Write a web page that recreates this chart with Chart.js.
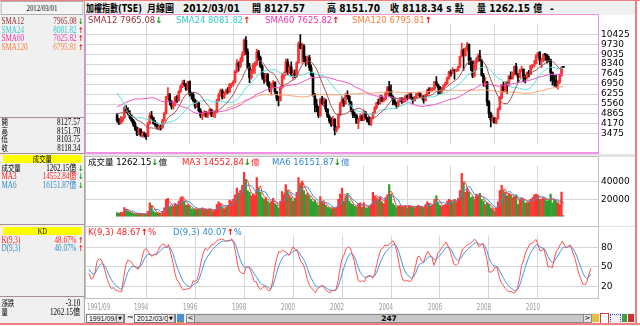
<!DOCTYPE html>
<html>
<head>
<meta charset="utf-8">
<script src="https://cdn.jsdelivr.net/npm/chart.js@4.4.1/dist/chart.umd.min.js"></script>
<style>
html, body { margin: 0; padding: 0; }
body { width: 640px; height: 326px; position: relative; overflow: hidden; background: #fff; font-family: "DejaVu Sans", "Noto Sans CJK TC", sans-serif; }
.abs { position: absolute; }
#left { position: absolute; left: 0; top: 0; width: 84px; height: 323px; background: #f0f0f0; border-right: 1px solid #a8a8a8; overflow: hidden; }
#leftIn { position: absolute; left: 0; top: 0; width: 112px; height: 323px; transform: scaleX(0.75); transform-origin: 0 0; font-family: "Liberation Serif", "Noto Sans CJK TC", serif; font-size: 9.5px; }
.row { position: absolute; left: 0; width: 112px; height: 9px; line-height: 9px; white-space: nowrap; }
.row .l { position: absolute; left: 2px; }
.row .v { position: absolute; right: 10px; }
.row .v2 { position: absolute; right: 5px; }
.row .a { position: absolute; right: 1px; font-family: "DejaVu Sans"; font-weight: bold; font-size: 8px; }
.row .c { font-size: 8.5px; }
.sep { position: absolute; left: 0; width: 112px; height: 1px; background: #a89090; }
.ybox { position: absolute; left: 4px; width: 105px; height: 8px; line-height: 8px; background: #ffff00; text-align: center; font-size: 8.5px; }
#header { position: absolute; left: 85px; top: 1px; width: 551px; height: 14px; background: #f0f0f0; }
.hd { position: absolute; top: 2px; font-weight: bold; font-size: 10px; line-height: 11px; white-space: nowrap; color: #000; transform: scaleX(0.9); transform-origin: 0 0; }
.panel { position: absolute; background: #fff; }
.lg { position: absolute; font-size: 8.5px; line-height: 10px; white-space: nowrap; z-index: 5; }
.up { color: #ff0000; font-weight: bold; }
.dn { color: #009900; font-weight: bold; }
canvas { position: absolute; z-index: 2; }
#bottom { position: absolute; left: 85px; top: 313px; width: 550px; height: 10px; background: #f0f0f0; font-size: 7px; }
.box { position: absolute; top: 1px; height: 7px; border: 1px solid #7a7a7a; background: #fff; line-height: 7px; font-family: "Liberation Sans"; font-size: 7px; overflow: hidden; white-space: nowrap; }
.btn { position: absolute; top: 1px; height: 7px; border: 1px solid #8a8a8a; background: #e4e4e4; line-height: 7px; text-align: center; font-size: 7px; }
</style>
</head>
<body>

<div id="header">
  <span class="hd" style="left:1px;transform:scaleX(0.8)">加權指數(TSE)</span>
  <span class="hd" style="left:62px">月線圖</span>
  <span class="hd" style="left:98px">2012/03/01</span>
  <span class="hd" style="left:167px">開 8127.57</span>
  <span class="hd" style="left:242px">高 8151.70</span>
  <span class="hd" style="left:305px">收 8118.34 s 點</span>
  <span class="hd" style="left:392px">量 1262.15 億</span>
  <span class="hd" style="left:465px">-</span>
</div>

<!-- panel backgrounds and borders -->
<div class="panel" style="left:85px;top:14px;width:512px;height:137px;border:1px solid #f090e8;border-bottom:2px solid #f090e8;"></div>
<div class="abs" style="left:85px;top:154px;width:551px;height:3px;background:#e4e4e4;"></div>
<div class="panel" style="left:85px;top:156px;width:512px;height:69px;border:1px solid #c8c0b8;"></div>
<div class="abs" style="left:85px;top:226px;width:551px;height:1px;background:#e4e4e4;"></div>
<div class="panel" style="left:85px;top:226px;width:512px;height:71px;border:1px solid #c8c0b8;"></div>

<canvas id="mainChart" width="550" height="137" style="left:86px;top:15px;"></canvas>
<canvas id="volChart" width="550" height="68" style="left:86px;top:157px;"></canvas>
<canvas id="kdChart" width="550" height="86" style="left:86px;top:227px;"></canvas>

<div class="lg" style="left:88px;top:15px;color:#9b3030">SMA12 7965.08<span class="dn">↓</span></div>
<div class="lg" style="left:176px;top:15px;color:#33cccc">SMA24 8081.82<span class="up">↑</span></div>
<div class="lg" style="left:265px;top:15px;color:#ee33aa">SMA60 7625.82<span class="up">↑</span></div>
<div class="lg" style="left:352px;top:15px;color:#ff8040">SMA120 6795.81<span class="up">↑</span></div>

<div class="lg" style="left:88px;top:157px;color:#000">成交量 1262.15<span class="dn">↓</span>億</div>
<div class="lg" style="left:182px;top:157px;color:#ff2020">MA3 14552.84<span class="dn">↓</span>億</div>
<div class="lg" style="left:272px;top:157px;color:#3388cc">MA6 16151.87<span class="dn">↓</span>億</div>

<div class="lg" style="left:88px;top:227px;color:#ff2020">K(9,3) 48.67<span class="up">↑</span>%</div>
<div class="lg" style="left:173px;top:227px;color:#3388cc">D(9,3) 40.07<span class="up">↑</span>%</div>

<div id="left">
  <div id="leftIn">
    <div class="abs" style="left:1px;top:1px;width:108px;height:12px;border:1px solid #b0b0b0;background:#f4f4f4;text-align:center;line-height:12px;font-size:9px;">2012/03/01</div>
    <div class="row" style="top:17px;color:#9b3030"><span class="l">SMA12</span><span class="v">7965.08</span><span class="a dn">↓</span></div>
    <div class="row" style="top:25.5px;color:#33cccc"><span class="l">SMA24</span><span class="v">8081.82</span><span class="a up">↑</span></div>
    <div class="row" style="top:34px;color:#ee33aa"><span class="l">SMA60</span><span class="v">7625.82</span><span class="a up">↑</span></div>
    <div class="row" style="top:42.5px;color:#ff8040"><span class="l">SMA120</span><span class="v">6795.81</span><span class="a up">↑</span></div>
    <div class="sep" style="top:117px"></div>
    <div class="row" style="top:118px"><span class="l c">開</span><span class="v2">8127.57</span></div>
    <div class="row" style="top:126.5px"><span class="l c">高</span><span class="v2">8151.70</span></div>
    <div class="row" style="top:135px"><span class="l c">低</span><span class="v2">8103.75</span></div>
    <div class="row" style="top:143.5px"><span class="l c">收</span><span class="v2">8118.34</span></div>
    <div class="sep" style="top:153px"></div>
    <div class="ybox" style="top:155px">成交量</div>
    <div class="row" style="top:164px"><span class="l c">成交量</span><span class="v">1262.15億</span><span class="a dn">↓</span></div>
    <div class="row" style="top:172px;color:#ff2020"><span class="l">MA3</span><span class="v">14552.84億</span><span class="a dn">↓</span></div>
    <div class="row" style="top:180.5px;color:#3388cc"><span class="l">MA6</span><span class="v">16151.87億</span><span class="a dn">↓</span></div>
    <div class="sep" style="top:224px"></div>
    <div class="ybox" style="top:227px">KD</div>
    <div class="row" style="top:235.5px;color:#ff2020"><span class="l">K(9,3)</span><span class="v">48.67%</span><span class="a up">↑</span></div>
    <div class="row" style="top:244px;color:#3388cc"><span class="l">D(9,3)</span><span class="v">40.07%</span><span class="a up">↑</span></div>
    <div class="sep" style="top:296px"></div>
    <div class="row" style="top:299px"><span class="l c">漲跌</span><span class="v2">-3.10</span></div>
    <div class="row" style="top:307.5px"><span class="l c">量</span><span class="v2">1262.15億</span></div>
  </div>
</div>

<div id="bottom">
  <div class="box" style="left:1px;width:37px;">&nbsp;1991/09/02</div>
  <div class="btn" style="left:31px;width:6px;font-size:5px;">▼</div>
  <div class="abs" style="left:42px;top:0px;font-size:8px;line-height:10px;">~</div>
  <div class="box" style="left:49px;width:40px;">&nbsp;2012/03/01</div>
  <div class="btn" style="left:82px;width:6px;font-size:5px;">▼</div>
  <div class="abs" style="left:92px;top:1px;width:7px;height:8px;background:#4a90d0;border-bottom:2px solid #e0a030;"></div>
  <div class="btn" style="left:101px;width:7px;">&lt;</div>
  <div class="btn" style="left:109px;width:388px;background:#c8c8c8;font-weight:bold;font-size:7.5px;">247</div>
  <div class="btn" style="left:498px;width:7px;">&gt;</div>
  <div class="abs" style="left:507px;top:1px;width:7px;height:8px;background:#e8c040;"></div>
  <div class="abs" style="left:515px;top:0px;width:7px;height:9px;border:1px solid #d04040;background:#fff;"></div>
  <div class="abs" style="left:525px;top:1px;width:9px;height:8px;border:1px dotted #3050e0;"></div>
  <div class="abs" style="left:537px;top:1px;width:5px;height:8px;background:#40a040;"></div>
  <div class="abs" style="left:543px;top:1px;width:6px;height:8px;background:#d03030;"></div>
</div>

<!-- outer frame -->
<div class="abs" style="left:0;top:0;width:640px;height:1px;background:#f08080;"></div>
<div class="abs" style="left:635px;top:0;width:2px;height:325px;background:#f08080;"></div>
<div class="abs" style="left:0;top:323px;width:640px;height:2px;background:#f08080;"></div>

<script>
// monthly candles, 1991/09 .. 2012/03
const opens = [
  4800, 4420, 4230, 4400,
  4600, 5300, 5050, 4900, 4600, 4400, 4100, 3800, 3450, 3800, 3400, 3550,
  3380, 3300, 4200, 4750, 4600, 4200, 4100, 3900, 3950, 3900, 4400, 4900,
  6070, 6200, 5700, 5400, 5600, 6000, 5800, 6450, 6800, 7000, 6900, 6600,
  7124, 6250, 6200, 5800, 5400, 5650, 5100, 4750, 4900, 4950, 4800, 4900,
  5173, 4800, 4900, 5000, 5800, 6200, 6500, 6000, 6300, 6500, 6400, 6900,
  6933, 7100, 7800, 8400, 8200, 8600, 9000, 10000, 9200, 8100, 7400, 7900,
  8187, 8300, 9200, 8800, 8200, 7500, 7200, 7600, 6900, 6600, 6900, 7050,
  6418, 5950, 5800, 6700, 7500, 7600, 8500, 7800, 8150, 7600, 7700, 7500,
  8448, 9750, 9450, 9600, 8700, 8500, 8800, 8100, 7600, 6200, 5500, 5300,
  4739, 5900, 5600, 5800, 5200, 4700, 4400, 4100, 4500, 3700, 3900, 4800,
  5551, 5900, 5600, 6200, 6100, 5700, 5100, 4800, 4750, 4250, 4500, 4700,
  4452, 5000, 4600, 4350, 4150, 4550, 4900, 5300, 5650, 5600, 6050, 5800,
  5890, 6300, 6700, 6500, 6100, 5800, 5600, 5450, 5750, 5850, 5700, 5850,
  6139, 5990, 6250, 6000, 5800, 6000, 6250, 6300, 6050, 6100, 5800, 6200,
  6548, 6500, 6600, 6620, 7100, 6900, 6700, 6450, 6600, 6880, 7000, 7350,
  7823, 7700, 7900, 7880, 7900, 8150, 8880, 9300, 8950, 9450, 9700, 8600,
  8506, 7520, 8400, 8570, 8900, 8600, 7550, 7050, 7100, 5700, 4900, 4450,
  4591, 4250, 4550, 5200, 6000, 6900, 6430, 7000, 6850, 7500, 7350, 7600,
  8188, 7650, 7430, 7920, 8000, 7375, 7330, 7760, 7620, 8240, 8290, 8370,
  8972, 9145, 8600, 8680, 9000, 8990, 8650, 8640, 7750, 7220, 7140, 6900,
  7072, 7520, 8127.57
];
const highs = [
  4900, 4560, 4700, 4650,
  5400, 5450, 5300, 5100, 4800, 4500, 4300, 3950, 3900, 3850, 3650, 3600,
  3500, 4300, 4950, 5050, 4650, 4400, 4250, 4100, 4100, 4500, 5000, 6100,
  6700, 6300, 5800, 5700, 6100, 6150, 6500, 6900, 7200, 7228, 7000, 7150,
  7180, 6400, 6350, 5900, 5800, 5700, 5250, 5000, 5100, 5050, 5000, 5250,
  5200, 5000, 5100, 5900, 6300, 6600, 6600, 6400, 6600, 6700, 7000, 7000,
  7200, 7900, 8650, 8500, 8800, 9200, 10100, 10256, 9400, 8400, 8000, 8400,
  8500, 9378, 9300, 8900, 8300, 7700, 7700, 7700, 7100, 7000, 7200, 7100,
  6450, 6100, 6800, 7700, 7800, 8700, 8700, 8300, 8500, 7900, 7950, 8500,
  9900, 10393, 9800, 9700, 8900, 8900, 8950, 8300, 7700, 6300, 5900, 5400,
  5950, 6100, 6000, 5900, 5250, 4800, 4600, 4700, 4550, 4000, 4900, 5700,
  6100, 6000, 6300, 6484, 6150, 5750, 5200, 5000, 4850, 4600, 4850, 4800,
  5150, 5050, 4650, 4700, 4600, 5000, 5400, 5700, 5900, 6200, 6150, 5950,
  6400, 6800, 7135, 6900, 6150, 6000, 5700, 5800, 6000, 6000, 6000, 6150,
  6200, 6300, 6350, 6050, 6100, 6300, 6400, 6350, 6200, 6150, 6250, 6600,
  6700, 6700, 6700, 7150, 7474, 6950, 6800, 6700, 6900, 7100, 7450, 7850,
  7950, 8100, 7950, 8000, 8200, 8900, 9807, 9400, 9500, 9859, 9750, 8800,
  8550, 8500, 8800, 9050, 9309, 8650, 7700, 7400, 7150, 5800, 5000, 4800,
  4600, 4600, 5300, 6100, 6900, 7100, 7100, 7100, 7550, 7800, 7800, 8200,
  8400, 7700, 8000, 8200, 8000, 7600, 7800, 7900, 8250, 8300, 8600, 8990,
  9170, 9220, 8750, 9050, 9100, 9000, 8900, 8700, 7800, 7550, 7600, 7200,
  7650, 8170, 8151.70
];
const lows = [
  4300, 4120, 4150, 4300,
  4550, 4950, 4800, 4500, 4300, 4000, 3700, 3350, 3400, 3300, 3250, 3250,
  3100, 3280, 4150, 4500, 4150, 4000, 3800, 3750, 3740, 3850, 4350, 4850,
  5900, 5500, 5200, 5200, 5450, 5650, 5750, 6350, 6700, 6800, 6500, 6550,
  6100, 5900, 5700, 5250, 5300, 5000, 4600, 4474, 4700, 4650, 4600, 4850,
  4672, 4650, 4600, 4950, 5750, 6100, 5900, 5950, 6200, 6300, 6350, 6700,
  6800, 7050, 7750, 7850, 8100, 8500, 8950, 9000, 8000, 7040, 7300, 7700,
  7700, 8250, 8600, 8100, 7300, 7000, 7100, 6800, 6400, 6200, 6700, 6300,
  5800, 5422, 5750, 6650, 7300, 7550, 7600, 7700, 7500, 7300, 7400, 7450,
  8400, 9400, 8400, 8500, 8200, 8300, 7900, 7500, 6100, 5000, 5000, 4600,
  4700, 5500, 5400, 5000, 4600, 4250, 4000, 4050, 3411, 3600, 3850, 4750,
  5400, 5400, 5550, 5900, 5500, 5000, 4600, 4600, 4200, 3845, 4400, 4400,
  4400, 4500, 4300, 4100, 4050, 4500, 4850, 5200, 5500, 5550, 5700, 5700,
  5850, 6200, 6100, 6000, 5500, 5500, 5255, 5350, 5700, 5600, 5650, 5700,
  5850, 5950, 5950, 5600, 5750, 5950, 6150, 6000, 5900, 5620, 5750, 6150,
  6300, 6400, 6450, 6550, 6800, 6250, 6250, 6300, 6550, 6800, 6950, 7300,
  7500, 7650, 7300, 7800, 7850, 8100, 8850, 7900, 8900, 9300, 8300, 7900,
  7400, 7450, 7900, 8500, 8550, 7500, 6800, 6750, 5450, 4600, 3955, 4300,
  4250, 4164, 4500, 5150, 5900, 6400, 6400, 6300, 6800, 7300, 7300, 7550,
  7600, 7080, 7400, 7800, 7100, 7030, 7300, 7450, 7600, 8050, 8150, 8350,
  8800, 8300, 8100, 8500, 8600, 8400, 8500, 7150, 6870, 6800, 6700, 6600,
  7000, 7500, 8103.75
];
const closes = [
  4420, 4230, 4400, 4600,
  5300, 5050, 4900, 4600, 4400, 4100, 3800, 3450, 3800, 3400, 3550, 3380,
  3300, 4200, 4750, 4600, 4200, 4100, 3900, 3950, 3900, 4400, 4900, 6070,
  6200, 5700, 5400, 5600, 6000, 5800, 6450, 6800, 7000, 6900, 6600, 7124,
  6250, 6200, 5800, 5400, 5650, 5100, 4750, 4900, 4950, 4800, 4900, 5173,
  4800, 4900, 5000, 5800, 6200, 6500, 6000, 6300, 6500, 6400, 6900, 6933,
  7100, 7800, 8400, 8200, 8600, 9000, 10000, 9200, 8100, 7400, 7900, 8187,
  8300, 9200, 8800, 8200, 7500, 7200, 7600, 6900, 6600, 6900, 7050, 6418,
  5950, 5800, 6700, 7500, 7600, 8500, 7800, 8150, 7600, 7700, 7500, 8448,
  9750, 9450, 9600, 8700, 8500, 8800, 8100, 7600, 6200, 5500, 5300, 4739,
  5900, 5600, 5800, 5200, 4700, 4400, 4100, 4500, 3700, 3900, 4800, 5551,
  5900, 5600, 6200, 6100, 5700, 5100, 4800, 4750, 4250, 4500, 4700, 4452,
  5000, 4600, 4350, 4150, 4550, 4900, 5300, 5650, 5600, 6050, 5800, 5890,
  6300, 6700, 6500, 6100, 5800, 5600, 5450, 5750, 5850, 5700, 5850, 6139,
  5990, 6250, 6000, 5800, 6000, 6250, 6300, 6050, 6100, 5800, 6200, 6548,
  6500, 6600, 6620, 7100, 6900, 6700, 6450, 6600, 6880, 7000, 7350, 7823,
  7700, 7900, 7880, 7900, 8150, 8880, 9300, 8950, 9450, 9700, 8600, 8506,
  7520, 8400, 8570, 8900, 8600, 7550, 7050, 7100, 5700, 4900, 4450, 4591,
  4250, 4550, 5200, 6000, 6900, 6430, 7000, 6850, 7500, 7350, 7600, 8188,
  7650, 7430, 7920, 8000, 7375, 7330, 7760, 7620, 8240, 8290, 8370, 8972,
  9145, 8600, 8680, 9000, 8990, 8650, 8640, 7750, 7220, 7140, 6900, 7072,
  7520, 8121, 8118.34
];
// 億
const volumes = [
  4500, 3800, 4800, 5000,
  10500, 8000, 6500, 5000, 4000, 3500, 3000, 3000, 3500, 3000, 3200, 3000,
  2500, 6000, 16000, 13000, 6000, 4500, 4000, 4000, 3500, 6000, 10000, 20000,
  21000, 11000, 12000, 12000, 15000, 13000, 18000, 22000, 23000, 18000, 13000, 14000,
  12000, 9000, 9000, 8000, 9000, 8000, 9000, 10000, 8000, 8000, 8000, 9000,
  8000, 6000, 8000, 14000, 17000, 15000, 11000, 9000, 11000, 13000, 19000, 18000,
  20000, 25000, 33000, 27000, 30000, 36000, 51000, 43000, 30000, 28000, 24000, 26000,
  24000, 45000, 33000, 28000, 22000, 20000, 22000, 18000, 16000, 17000, 21000, 15000,
  13000, 10000, 18000, 29000, 25000, 37000, 30000, 25000, 22000, 18000, 21000, 28000,
  45000, 38000, 41000, 30000, 25000, 27000, 24000, 20000, 17000, 19000, 15000, 13000,
  23000, 17000, 16000, 13000, 11000, 10000, 9000, 10000, 9000, 11000, 20000, 26000,
  33000, 18000, 24000, 27000, 18000, 15000, 14000, 12000, 11000, 15000, 16000, 11000,
  16000, 10000, 10000, 12000, 14000, 28000, 24000, 22000, 20000, 23000, 17000, 15000,
  22000, 25000, 37000, 26000, 15000, 13000, 11000, 12000, 13000, 11000, 12000, 13000,
  10000, 13000, 12000, 11000, 10000, 12000, 13000, 11000, 11000, 10000, 14000, 17000,
  15000, 12000, 14000, 20000, 24000, 16000, 13000, 12000, 13000, 14000, 18000, 20000,
  18000, 17000, 20000, 17000, 21000, 30000, 50000, 40000, 28000, 32000, 28000, 22000,
  23000, 20000, 26000, 25000, 27000, 20000, 18000, 14000, 16000, 14000, 10000, 9000,
  6000, 10000, 17000, 30000, 36000, 30000, 28000, 24000, 27000, 25000, 22000, 23000,
  25000, 14000, 20000, 22000, 20000, 16000, 16000, 17000, 20000, 22000, 25000, 26000,
  24000, 20000, 20000, 22000, 20000, 18000, 19000, 26000, 16000, 20000, 17500, 15750,
  14000, 28400, 1262.15
];
// closes before the visible range (1986/10 .. 1991/08), used by the long SMAs
const preCloses = [
  850, 900, 1039,
  1100, 1200, 1400, 1650, 1650, 1550, 1800, 2700, 4300, 3400, 2400, 2339,
  3200, 3500, 3400, 3900, 4600, 5600, 7200, 8400, 8000, 6000, 5500, 5119,
  6600, 7000, 7500, 8000, 9000, 9200, 9600, 10100, 10500, 9000, 8300, 9624,
  11900, 12000, 10800, 8400, 6900, 5100, 5300, 3500, 3400, 3000, 4000, 4530,
  4100, 5100, 5300, 5500, 6000, 5600, 5300, 4800
];

const priceTicks = [3475, 4170, 4865, 5560, 6255, 6950, 7645, 8340, 9035, 9730, 10425];
const volTicks = [20000, 40000];
const kdTicks = [20, 50, 80];
const yearTickMonths = [28, 52, 76, 100, 124, 148, 172, 196, 220];
const xLabelMonths = [0, 28, 52, 76, 100, 124, 148, 172, 196, 220];
const xLabelTexts = ['1991/09', '1994', '1996', '1998', '2000', '2002', '2004', '2006', '2008', '2010'];

const N = closes.length;
const months = closes.map((c, i) => i);
const isUp = months.map(i => closes[i] >= opens[i]);
const allCloses = preCloses.concat(closes);
const P = preCloses.length;

function smaLine(n) {
    return months.map(i => {
        const j = i + P;
        if (j + 1 < n) return { x: i, y: null };
        let s = 0;
        for (let k = j - n + 1; k <= j; k++) s += allCloses[k];
        return { x: i, y: s / n };
    });
}

function volMa(n) {
    return months.map(i => {
        if (i + 1 < n) return { x: i, y: null };
        let s = 0;
        for (let k = i - n + 1; k <= i; k++) s += volumes[k];
        return { x: i, y: s / n };
    });
}

// KD(9,3)
const kLine = [], dLine = [];
let kv = 50, dv = 50;
for (let i = 0; i < N; i++) {
    const from = Math.max(0, i - 8);
    const hi = Math.max(...highs.slice(from, i + 1));
    const lo = Math.min(...lows.slice(from, i + 1));
    const rsv = hi > lo ? (closes[i] - lo) / (hi - lo) * 100 : 50;
    kv = kv * 2 / 3 + rsv / 3;
    dv = dv * 2 / 3 + kv / 3;
    kLine.push({ x: i, y: kv });
    dLine.push({ x: i, y: dv });
}

const GRID = '#d6d6d6';
const X_MIN = -1.47, X_MAX = 249.43;

function xScale(h) {
    return {
        type: 'linear', min: X_MIN, max: X_MAX,
        afterBuildTicks: s => { s.ticks = yearTickMonths.map(v => ({ value: v })); },
        ticks: { display: false },
        grid: { color: GRID, drawTicks: false },
        border: { display: false },
        afterFit: s => { s.height = h; }
    };
}

function yScale(min, max, ticks) {
    return {
        position: 'right', min: min, max: max,
        afterBuildTicks: s => { s.ticks = ticks.map(v => ({ value: v })); },
        ticks: { color: '#000', font: { family: 'DejaVu Sans', size: 9 }, padding: 3, autoSkip: false, callback: v => String(v) },
        grid: { color: GRID, drawTicks: false },
        border: { display: false },
        afterFit: s => { s.width = 38; }
    };
}

const baseOptions = {
    animation: false, responsive: false, maintainAspectRatio: false,
    events: [],
    layout: { padding: 0 },
    plugins: { legend: { display: false }, tooltip: { enabled: false } }
};

function line(data, color) {
    return { type: 'line', data: data, borderColor: color, borderWidth: 1, pointRadius: 0, tension: 0, spanGaps: false, order: 0 };
}

// price panel
new Chart(document.getElementById('mainChart'), {
    type: 'bar',
    data: {
        datasets: [
            line(smaLine(12), '#a05050'),
            line(smaLine(24), '#55dddd'),
            line(smaLine(60), '#f050c0'),
            line(smaLine(120), '#ffa070'),
            {
                data: months.map(i => ({ x: i, y: [opens[i], closes[i]] })),
                backgroundColor: months.map(i => isUp[i] ? '#ff3030' : '#000000'),
                barThickness: 2, grouped: false, minBarLength: 1, order: 1
            },
            {
                data: months.map(i => ({ x: i, y: [lows[i], highs[i]] })),
                backgroundColor: months.map(i => isUp[i] ? '#ff3030' : '#000000'),
                barThickness: 1, grouped: false, order: 2
            }
        ]
    },
    options: Object.assign({}, baseOptions, {
        scales: { x: xScale(0), y: yScale(2800, 11180, priceTicks) }
    })
});

// volume panel
new Chart(document.getElementById('volChart'), {
    type: 'bar',
    data: {
        datasets: [
            line(volMa(3), '#ff4040'),
            line(volMa(6), '#3399dd'),
            {
                data: months.map(i => ({ x: i, y: volumes[i] })),
                backgroundColor: months.map(i => isUp[i] ? '#ff3333' : '#2f9f2f'),
                barThickness: 1.6, grouped: false, order: 1
            }
        ]
    },
    options: Object.assign({}, baseOptions, {
        scales: { x: xScale(0), y: yScale(0, 59130, volTicks) }
    })
});

// date labels under the KD panel
const xLabelPlugin = {
    id: 'xLabels',
    afterDraw(chart) {
        const { ctx, scales } = chart;
        const y = chart.chartArea.bottom + 10;
        ctx.save();
        ctx.fillStyle = '#999999';
        ctx.font = '9px "DejaVu Sans"';
        ctx.textBaseline = 'middle';
        xLabelMonths.forEach((m, j) => {
            const px = scales.x.getPixelForValue(m);
            ctx.save();
            if (j === 0) {
                ctx.translate(1, y);
                ctx.scale(0.62, 1);
                ctx.textAlign = 'left';
            } else {
                ctx.translate(px - 5, y);
                ctx.scale(0.62, 1);
                ctx.textAlign = 'center';
            }
            ctx.fillText(xLabelTexts[j], 0, 0);
            ctx.restore();
        });
        ctx.restore();
    }
};

// KD panel
new Chart(document.getElementById('kdChart'), {
    type: 'line',
    data: {
        datasets: [
            line(kLine, '#ff5050'),
            line(dLine, '#4499dd')
        ]
    },
    options: Object.assign({}, baseOptions, {
        scales: { x: xScale(15), y: yScale(2, 98.6, kdTicks) }
    }),
    plugins: [xLabelPlugin]
});
</script>
</body>
</html>
